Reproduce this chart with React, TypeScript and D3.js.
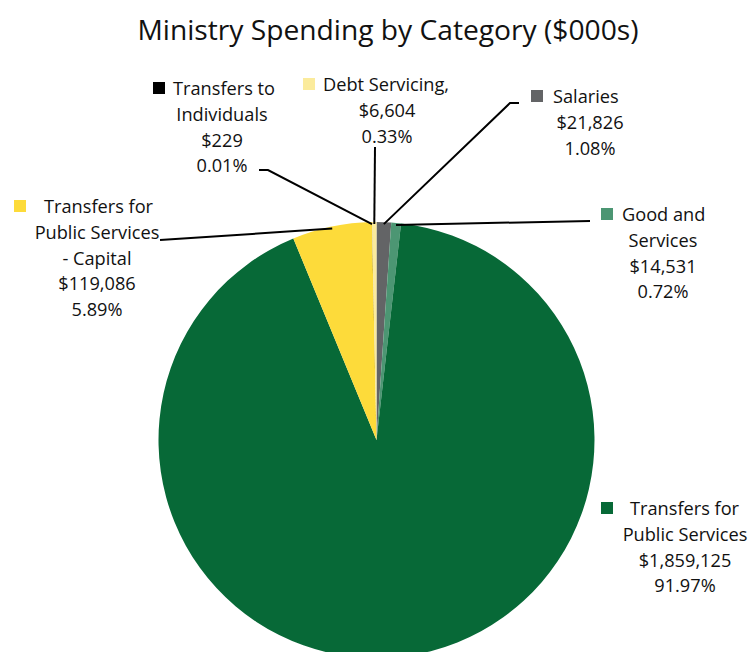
import React, { useEffect, useRef } from "react";
import * as d3 from "d3";

const categories = [
  "Salaries",
  "Good and Services",
  "Transfers for Public Services",
  "Transfers for Public Services - Capital",
  "Transfers to Individuals",
  "Debt Servicing",
];
const values = [21826, 14531, 1859125, 119086, 229, 6604];
const percentLabels = ["1.08%", "0.72%", "91.97%", "5.89%", "0.01%", "0.33%"];
const colors = ["#636466", "#4c9673", "#076937", "#fddb3a", "#000000", "#fbeb9c"];

const labelLines = [
  ["Salaries", "$21,826", "1.08%"],
  ["Good and", "Services", "$14,531", "0.72%"],
  ["Transfers for", "Public Services", "$1,859,125", "91.97%"],
  ["Transfers for", "Public Services", "- Capital", "$119,086", "5.89%"],
  ["Transfers to", "Individuals", "$229", "0.01%"],
  ["Debt Servicing,", "$6,604", "0.33%"],
];

const W = 750;
const H = 652;
const FONT = "'Open Sans', sans-serif";

export default function App() {
  const ref = useRef<SVGSVGElement>(null);
  useEffect(() => {
    const svg = d3.select(ref.current);
    svg.selectAll("*").remove();
    const cx = 376.5, cy = 440, r = 218;

    svg.append("rect").attr("width", W).attr("height", H).attr("fill", "#fff");

    svg.append("text")
      .attr("x", 388).attr("y", 40)
      .attr("text-anchor", "middle")
      .attr("font-family", FONT)
      .attr("font-size", 28.2)
      .attr("fill", "#111")
      .text("Ministry Spending by Category ($000s)");

    const pie = d3.pie<number>().sort(null).value((d) => d);
    const arcs = pie(values);
    const arc = d3.arc<d3.PieArcDatum<number>>().innerRadius(0).outerRadius(r);
    const edge = d3.arc<d3.PieArcDatum<number>>().innerRadius(r - 2).outerRadius(r - 2);

    const g = svg.append("g").attr("transform", `translate(${cx},${cy})`);
    g.selectAll("path")
      .data(arcs)
      .join("path")
      .attr("d", arc)
      .attr("fill", (_d, i) => colors[i]);

    const layout = [
      { x: 590, y: 103, sq: 531, first: 553, leader: [[519, 103], [510, 103]] },
      { x: 663, y: 221, sq: 601, first: 622, leader: [[590, 221]] },
      { x: 685, y: 515, sq: 601, first: 630, leader: null },
      { x: 97, y: 213, sq: 14, first: 44, leader: [[160, 240]] },
      { x: 222, y: 95, sq: 153, first: 173, leader: [[259, 170], [268, 170]] },
      { x: 387, y: 91, sq: 303, first: 323, leader: [[375, 147]] },
    ];
    const lh = 25.8;

    arcs.forEach((a, i) => {
      const L = layout[i];
      const [ex, ey] = edge.centroid(a);
      if (L.leader) {
        const pts = [...L.leader, [cx + ex, cy + ey]];
        svg.append("path")
          .attr("d", d3.line()(pts as [number, number][]))
          .attr("fill", "none")
          .attr("stroke", "#000")
          .attr("stroke-width", 2);
      }
      const lines = labelLines[i];
      const t = svg.append("g").attr("font-family", FONT).attr("font-size", 18.2).attr("fill", "#111");
      lines.forEach((ln, k) => {
        if (k === 0) {
          t.append("text").attr("x", L.first).attr("y", L.y).text(ln);
        } else {
          t.append("text").attr("x", L.x).attr("y", L.y + k * lh).attr("text-anchor", "middle").text(ln);
        }
      });
      svg.append("rect")
        .attr("x", L.sq).attr("y", L.y - 13)
        .attr("width", 12).attr("height", 12)
        .attr("fill", colors[i]);
    });
  }, []);
  return (
    <svg
      ref={ref}
      width={W}
      height={H}
      style={{ position: "absolute", left: 0, top: 0 }}
    />
  );
}
